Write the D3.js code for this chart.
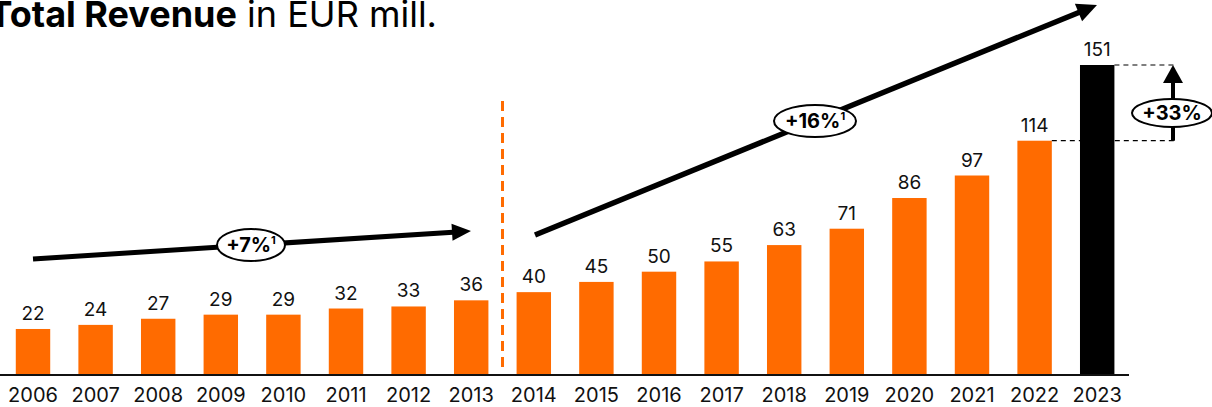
<!DOCTYPE html>
<html><head><meta charset="utf-8">
<script src="https://cdn.jsdelivr.net/npm/d3@7"></script>
<style>
html,body{margin:0;padding:0;background:#fff;overflow:hidden}
svg{display:block;font-family:Inter,"Open Sans",sans-serif}
</style></head>
<body><svg id="c" width="1212" height="407"></svg>
<script>
const years = ["2006","2007","2008","2009","2010","2011","2012","2013","2014","2015","2016","2017","2018","2019","2020","2021","2022","2023"];
const revenue = [22,24,27,29,29,32,33,36,40,45,50,55,63,71,86,97,114,151];
const highlightYear = "2023";
const cagrLabels = ["+7%", "+16%"];
const growthLabel = "+33%";

const ORANGE = "#ff6b00";
const svg = d3.select("#c");

const x = d3.scaleBand().domain(years).range([1.7, 1128.5]).paddingInner(0.45).paddingOuter(0.225);
const y = d3.scaleLinear().domain([0, 151]).range([374, 65]);

// title (cut at the left edge as in the original)
const title = svg.append("text").attr("x", 437).attr("y", 27).attr("text-anchor", "end")
  .attr("font-size", 36).attr("fill", "#000");
title.append("tspan").attr("font-weight", 700).text("Total Revenue");
title.append("tspan").attr("font-weight", 400).text(" in EUR mill.");

// bars
svg.append("g").selectAll("rect").data(years).join("rect")
  .attr("x", d => x(d)).attr("width", x.bandwidth())
  .attr("y", (d, i) => y(revenue[i])).attr("height", (d, i) => y(0) - y(revenue[i]))
  .attr("fill", d => d === highlightYear ? "#000" : ORANGE);

// value labels
svg.append("g").selectAll("text").data(years).join("text")
  .attr("x", d => x(d) + x.bandwidth() / 2)
  .attr("y", (d, i) => y(revenue[i]) - 9)
  .attr("text-anchor", "middle").attr("font-size", 19).attr("fill", "#111")
  .text((d, i) => revenue[i]);

// axis
const axis = svg.append("g").attr("transform", `translate(0,${y(0)})`)
  .call(d3.axisBottom(x).tickSize(0).tickPadding(14));
axis.select(".domain").remove();
axis.selectAll("text").attr("font-size", 20).attr("fill", "#111").attr("font-family", "Inter,'Open Sans',sans-serif");
svg.append("line").attr("x1", 0).attr("x2", 1129).attr("y1", y(0) + 1).attr("y2", y(0) + 1)
  .attr("stroke", "#111").attr("stroke-width", 2);

// orange dashed separator between 2013 and 2014
const sepX = (x("2013") + x.bandwidth() + x("2014")) / 2;
svg.append("line").attr("x1", sepX).attr("x2", sepX).attr("y1", 101).attr("y2", y(0) - 2)
  .attr("stroke", ORANGE).attr("stroke-width", 3).attr("stroke-dasharray", "10,6");

function arrow(x1, y1, x2, y2, w, headL, headW) {
  const dx = x2 - x1, dy = y2 - y1, L = Math.hypot(dx, dy);
  const ux = dx / L, uy = dy / L, nx = -uy, ny = ux;
  const bx = x2 - ux * headL, by = y2 - uy * headL;
  svg.append("line").attr("x1", x1).attr("y1", y1).attr("x2", bx + ux).attr("y2", by + uy)
    .attr("stroke", "#000").attr("stroke-width", w);
  svg.append("polygon").attr("points",
    [[x2, y2], [bx + nx * headW / 2, by + ny * headW / 2], [bx - nx * headW / 2, by - ny * headW / 2]].map(p => p.join(",")).join(" "))
    .attr("fill", "#000");
}
function bubble(cx, cy, rx, ry, label, sup) {
  svg.append("ellipse").attr("cx", cx).attr("cy", cy).attr("rx", rx).attr("ry", ry)
    .attr("fill", "#fff").attr("stroke", "#000").attr("stroke-width", 2);
  const t = svg.append("text").attr("x", cx).attr("y", cy + 7).attr("text-anchor", "middle")
    .attr("font-size", 20).attr("font-weight", 700).attr("fill", "#000");
  t.append("tspan").text(label);
  if (sup) t.append("tspan").attr("font-size", 11).attr("dy", -8).text(sup);
}

// trend arrows
const c06 = x("2006") + x.bandwidth() / 2;
arrow(c06, 259, 471, 231, 5, 19, 17);
bubble(251, 245, 34, 16, cagrLabels[0], "1");
arrow(535, 235, 1097, 5, 5.5, 20, 19);
bubble(815, 121, 41, 16, cagrLabels[1], "1");

// +33% growth annotation
const xr = x("2023") + x.bandwidth();
svg.append("line").attr("x1", xr).attr("x2", 1176).attr("y1", y(151)).attr("y2", y(151))
  .attr("stroke", "#000").attr("stroke-width", 1.2).attr("stroke-dasharray", "5,4");
svg.append("line").attr("x1", x("2022") + x.bandwidth()).attr("x2", 1176).attr("y1", y(114)).attr("y2", y(114))
  .attr("stroke", "#000").attr("stroke-width", 1.2).attr("stroke-dasharray", "5,4");
arrow(1173, y(114), 1173, y(151), 4, 18, 20);
bubble(1172, 113, 40, 14, growthLabel, null);
</script></body></html>
